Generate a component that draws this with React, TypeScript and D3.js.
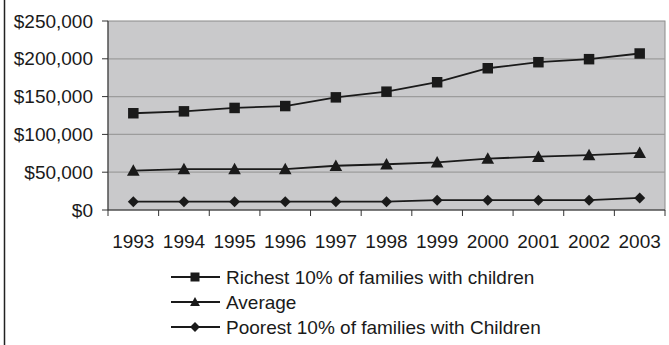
import React from "react";
import * as d3 from "d3";

const years = ["1993", "1994", "1995", "1996", "1997", "1998", "1999", "2000", "2001", "2002", "2003"];
const richest = [128000, 130500, 135000, 137500, 149000, 156500, 169000, 187500, 195500, 199500, 207000];
const average = [52000, 54000, 54000, 54000, 58500, 60500, 63000, 68000, 70500, 72500, 75500];
const poorest = [11000, 11000, 11000, 11000, 11000, 11000, 13000, 13000, 13000, 13000, 16000];
const yTicks = [0, 50000, 100000, 150000, 200000, 250000];
const seriesNames = [
  "Richest 10% of families with children",
  "Average",
  "Poorest 10% of families with Children",
];

const W = 669;
const H = 345;
const plot = { left: 108, right: 665, top: 21, bottom: 210 };
const font = "'Liberation Sans', Arial, sans-serif";
const ink = "#1a1a1a";
const fs = 19;

type Shape = "square" | "triangle" | "diamond";

function markerPath(shape: Shape, s: number): string {
  if (shape === "square") return `M${-s / 2},${-s / 2}h${s}v${s}h${-s}Z`;
  if (shape === "triangle") return `M0,${-s * 0.55}L${s * 0.55},${s * 0.45}L${-s * 0.55},${s * 0.45}Z`;
  return `M0,${-s * 0.55}L${s * 0.55},0L0,${s * 0.55}L${-s * 0.55},0Z`;
}

export default function App() {
  const x = d3.scaleBand<string>().domain(years).range([plot.left, plot.right]);
  const y = d3.scaleLinear().domain([0, 250000]).range([plot.bottom, plot.top]);
  const fmt = (v: number) => "$" + d3.format(",")(v);
  const cx = (i: number) => (x(years[i]) as number) + x.bandwidth() / 2;

  const series: { name: string; values: number[]; shape: Shape; size: number }[] = [
    { name: seriesNames[0], values: richest, shape: "square", size: 10.5 },
    { name: seriesNames[1], values: average, shape: "triangle", size: 11.5 },
    { name: seriesNames[2], values: poorest, shape: "diamond", size: 10 },
  ];

  const line = d3
    .line<number>()
    .x((_, i) => cx(i))
    .y((v) => y(v));

  const legendRows = [277, 302, 327];

  return (
    <svg
      width={W}
      height={H}
      style={{ position: "absolute", left: 0, top: 0, background: "#fff" }}
      fontFamily={font}
    >
      {/* outer chart frame edge */}
      <line x1={4.5} x2={4.5} y1={0} y2={H} stroke="#222" strokeWidth={1.5} />

      {/* plot area */}
      <rect
        x={plot.left}
        y={plot.top}
        width={plot.right - plot.left}
        height={plot.bottom - plot.top}
        fill="#c9c9cb"
        stroke="#8a8a8a"
        strokeWidth={1}
      />
      {yTicks.slice(1, -1).map((t) => (
        <line key={t} x1={plot.left} x2={plot.right} y1={y(t)} y2={y(t)} stroke="#9c9c9c" strokeWidth={1.2} />
      ))}

      {/* y axis */}
      <line x1={plot.left} x2={plot.left} y1={plot.top} y2={plot.bottom} stroke="#333" strokeWidth={1} />
      {yTicks.map((t) => (
        <g key={t}>
          <line x1={plot.left - 6} x2={plot.left} y1={y(t)} y2={y(t)} stroke="#333" />
          <text x={93} y={y(t)} dy="0.35em" textAnchor="end" fontSize={fs} fill={ink}>
            {fmt(t)}
          </text>
        </g>
      ))}

      {/* x axis */}
      <line x1={plot.left} x2={plot.right} y1={plot.bottom} y2={plot.bottom} stroke="#333" strokeWidth={1} />
      <line x1={plot.left} x2={plot.left} y1={plot.bottom} y2={plot.bottom + 6} stroke="#333" />
      {years.map((yr, i) => {
        const x0 = (x(yr) as number) + x.bandwidth();
        return (
          <g key={yr}>
            <line x1={x0} x2={x0} y1={plot.bottom} y2={plot.bottom + 6} stroke="#333" />
            <text x={cx(i)} y={248} textAnchor="middle" fontSize={fs} fill={ink}>
              {yr}
            </text>
          </g>
        );
      })}

      {/* series */}
      {series.map((s) => (
        <g key={s.name}>
          <path d={line(s.values) || ""} fill="none" stroke={ink} strokeWidth={1.8} />
          {s.values.map((v, i) => (
            <path
              key={i}
              d={markerPath(s.shape, s.size)}
              transform={`translate(${cx(i)},${y(v)})`}
              fill={ink}
            />
          ))}
        </g>
      ))}

      {/* legend */}
      {series.map((s, i) => (
        <g key={s.name} transform={`translate(0,${legendRows[i]})`}>
          <line x1={171} x2={220} y1={0} y2={0} stroke={ink} strokeWidth={1.8} />
          <path d={markerPath(s.shape, 9)} transform="translate(195,0)" fill={ink} />
          <text x={226} y={0} dy="0.35em" fontSize={fs} fill={ink}>
            {s.name}
          </text>
        </g>
      ))}
    </svg>
  );
}
